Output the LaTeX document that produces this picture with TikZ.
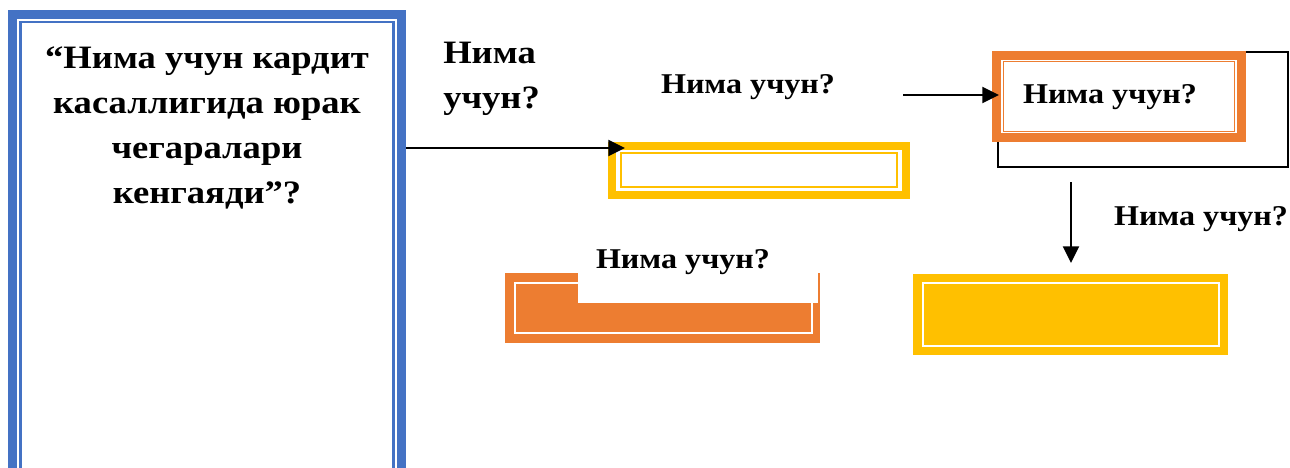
\documentclass[tikz,border=0pt]{standalone}
\usepackage{fontspec}
\setmainfont{Liberation Serif}[FakeStretch=1.12]
\usetikzlibrary{arrows.meta}
\definecolor{wblue}{HTML}{4472C4}
\definecolor{worange}{HTML}{ED7D31}
\definecolor{wyellow}{HTML}{FFC000}
\tikzset{
  big/.style={font=\bfseries\fontsize{24.5}{33.75}\selectfont},
  small/.style={font=\bfseries\fontsize{21.5}{26}\selectfont},
  conn/.style={line width=1.7pt,-{Triangle[length=12.5pt,width=12pt]}},
}
\begin{document}
\begin{tikzpicture}[x=0.75pt,y=-0.75pt]
\useasboundingbox (0,0) rectangle (1290,468);
\clip (0,0) rectangle (1290,468);
\fill[white] (0,0) rectangle (1290,468);
% blue box
\draw[wblue,line width=6.75pt] (12.5,14) rectangle (401.5,480);
\draw[wblue,line width=1.6pt] (20.5,22) rectangle (393.5,480);
\node[big,align=center,anchor=base,inner sep=0pt] (q) at (207,203)
 {“Нима учун кардит\\касаллигида юрак\\чегаралари\\кенгаяди”?};
\coordinate (bq) at (406,148);
% label two lines
\node[big,align=left,anchor=base west,inner sep=0pt] (l1) at (443,108) {Нима\\учун?};
% yellow box 1
\draw[wyellow,fill=white,line width=6pt] (612,146) rectangle (906,195);
\draw[wyellow,line width=1.6pt] (621,153) rectangle (897,187);
\coordinate (y1) at (625,148);
\draw[conn] (bq) -- (y1);
% label mid top
\node[small,anchor=base,inner sep=0pt] (l2) at (748,93) {Нима учун?};
% black rect behind orange box
\draw[black,line width=0.9pt] (998,52) rectangle (1288,167);
% orange box 1
\draw[worange,fill=white,line width=6.75pt] (996.5,55.5) rectangle (1241.5,137.5);
\draw[worange,line width=1.4pt] (1003.5,61.5) rectangle (1234.5,131.5);
\node[small,anchor=base,inner sep=0pt] (o1) at (1110,103) {Нима учун?};
\coordinate (a2s) at (903,95);
\coordinate (a2e) at (999,95);
\draw[conn] (a2s) -- (a2e);
% down arrow
\coordinate (a3s) at (1071,182);
\coordinate (a3e) at (1071,263);
\draw[conn] (a3s) -- (a3e);
\node[small,anchor=base,inner sep=0pt] (l3) at (1201,225) {Нима учун?};
% orange box 2
\fill[worange] (505,273) rectangle (820,343);
\draw[white,line width=1.6pt] (515,283) rectangle (812,333);
\fill[white] (578,240) rectangle (818,303);
\node[small,anchor=base,inner sep=0pt] (l4) at (683,268) {Нима учун?};
% yellow box 2
\fill[wyellow] (913,274) rectangle (1228,355);
\draw[white,line width=2pt] (923,283) rectangle (1219,346);
\end{tikzpicture}
\end{document}
